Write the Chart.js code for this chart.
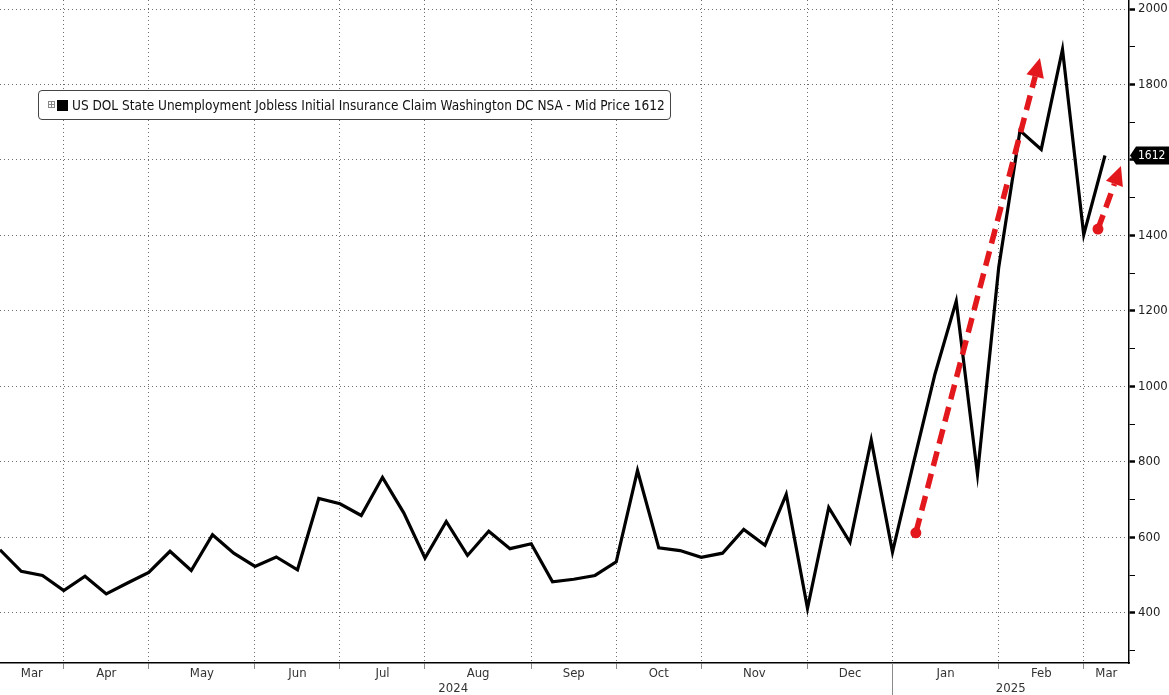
<!DOCTYPE html>
<html>
<head>
<meta charset="utf-8">
<script src="https://cdn.jsdelivr.net/npm/chart.js@4.4.1/dist/chart.umd.min.js"></script>
<style>
  html, body { margin: 0; padding: 0; background: #fff; }
  #wrap { position: relative; width: 1169px; height: 695px; }
  #legend {
    position: absolute; left: 38px; top: 90px; width: 631px; height: 28px;
    border: 1px solid #444; border-radius: 4px; background: #fff;
    font: 13.5px "DejaVu Sans Condensed", "DejaVu Sans", sans-serif; color: #111;
    line-height: 28px; white-space: nowrap;
  }
  #legend .plus {
    position: absolute; left: 9px; top: 10px; width: 5px; height: 5px;
    border: 1px solid #888;
  }
  #legend .plus::before {
    content: ''; position: absolute; left: 2px; top: 0; width: 1px; height: 5px; background: #888;
  }
  #legend .plus::after {
    content: ''; position: absolute; left: 0; top: 2px; width: 5px; height: 1px; background: #888;
  }
  #legend .sq {
    position: absolute; left: 18px; top: 9px; width: 11px; height: 11px; background: #000;
  }
  #legend .txt { position: absolute; left: 33px; top: 0; }
</style>
</head>
<body>
<div id="wrap">
  <canvas id="chart" width="1169" height="695"></canvas>
  <div id="legend"><span class="plus"></span><span class="sq"></span><span class="txt" id="legendText"></span></div>
</div>
<script>
// weekly observations (week ending Friday)
const weeks = [
  '2024-03-15','2024-03-22','2024-03-29',
  '2024-04-05','2024-04-12','2024-04-19','2024-04-26',
  '2024-05-03','2024-05-10','2024-05-17','2024-05-24','2024-05-31',
  '2024-06-07','2024-06-14','2024-06-21','2024-06-28',
  '2024-07-05','2024-07-12','2024-07-19','2024-07-26',
  '2024-08-02','2024-08-09','2024-08-16','2024-08-23','2024-08-30',
  '2024-09-06','2024-09-13','2024-09-20','2024-09-27',
  '2024-10-04','2024-10-11','2024-10-18','2024-10-25',
  '2024-11-01','2024-11-08','2024-11-15','2024-11-22','2024-11-29',
  '2024-12-06','2024-12-13','2024-12-20','2024-12-27',
  '2025-01-03','2025-01-10','2025-01-17','2025-01-24','2025-01-31',
  '2025-02-07','2025-02-14','2025-02-21','2025-02-28',
  '2025-03-07','2025-03-14'
];
const claims = [
  567, 510, 499,
  459, 497, 450, 479,
  507, 563, 512, 607, 558,
  523, 548, 514, 703,
  689, 658, 759, 665,
  545, 642, 552, 616, 570,
  583, 482, 489, 499,
  535, 777, 572, 565,
  547, 558, 621, 579, 714,
  412, 679, 587, 858,
  561, 800, 1033, 1226, 767,
  1316, 1678, 1628, 1893,
  1402, 1612
];
const monthNames = ['Jan','Feb','Mar','Apr','May','Jun','Jul','Aug','Sep','Oct','Nov','Dec'];
const yLabelTicks = [400, 600, 800, 1000, 1200, 1400, 1600, 1800, 2000];
const seriesName = 'US DOL State Unemployment Jobless Initial Insurance Claim Washington DC NSA - Mid Price';

// red annotation arrows, in (week index, claims) units
const arrowFromX = [43.1, 51.67];
const arrowFromY = [612, 1417];
const arrowToX = [48.94, 52.75];
const arrowToY = [1870, 1584];

const lastValue = claims[claims.length - 1];
document.getElementById('legendText').textContent = seriesName + ' ' + lastValue;

// month boundaries = first week of each new month
const monthStarts = [];
weeks.forEach((d, i) => {
  if (i > 0 && d.slice(5, 7) !== weeks[i - 1].slice(5, 7)) monthStarts.push(i);
});
const xMax = 53.13;

const points = claims.map((v, i) => ({ x: i, y: v }));

const axisFont = '"DejaVu Sans Condensed", "DejaVu Sans", sans-serif';

const bottomLabels = {
  id: 'bottomLabels',
  afterDraw(chart) {
    const { ctx, chartArea } = chart;
    const x = chart.scales.x;
    const bounds = [0].concat(monthStarts, [xMax]);
    const starts = [weeks[0]].concat(monthStarts.map(i => weeks[i]));
    ctx.save();
    ctx.fillStyle = '#333';
    ctx.font = '13px ' + axisFont;
    ctx.textAlign = 'center';
    ctx.textBaseline = 'middle';
    for (let k = 0; k < bounds.length - 1; k++) {
      const m = parseInt(starts[k].slice(5, 7), 10) - 1;
      const px = (x.getPixelForValue(bounds[k]) + x.getPixelForValue(bounds[k + 1])) / 2;
      ctx.fillText(monthNames[m], px, chartArea.bottom + 11);
    }
    // years
    const yearBounds = [0];
    const years = [weeks[0].slice(0, 4)];
    monthStarts.forEach(i => {
      if (weeks[i].slice(0, 4) !== years[years.length - 1]) {
        yearBounds.push(i);
        years.push(weeks[i].slice(0, 4));
      }
    });
    yearBounds.push(xMax);
    for (let k = 0; k < years.length; k++) {
      const px = (x.getPixelForValue(yearBounds[k]) + x.getPixelForValue(yearBounds[k + 1])) / 2;
      ctx.fillText(years[k], px + (k === 0 ? 7 : 0), chartArea.bottom + 26);
      if (k > 0) {
        const sx = Math.round(x.getPixelForValue(yearBounds[k])) + 0.5;
        ctx.strokeStyle = '#8a8a8a';
        ctx.lineWidth = 1;
        ctx.beginPath();
        ctx.moveTo(sx, chartArea.bottom);
        ctx.lineTo(sx, chart.height);
        ctx.stroke();
      }
    }
    ctx.restore();
  }
};

const arrows = {
  id: 'arrows',
  afterDatasetsDraw(chart) {
    const { ctx } = chart;
    const x = chart.scales.x, y = chart.scales.y;
    ctx.save();
    const red = '#e3181c';
    for (let k = 0; k < arrowFromX.length; k++) {
      const x1 = x.getPixelForValue(arrowFromX[k]), y1 = y.getPixelForValue(arrowFromY[k]);
      const x2 = x.getPixelForValue(arrowToX[k]), y2 = y.getPixelForValue(arrowToY[k]);
      const ang = Math.atan2(y2 - y1, x2 - x1);
      const headLen = 19, headW = 9;
      const bx = x2 - Math.cos(ang) * headLen, by = y2 - Math.sin(ang) * headLen;
      ctx.strokeStyle = red;
      ctx.lineWidth = 5.5;
      ctx.setLineDash([15, 8]);
      ctx.beginPath();
      ctx.moveTo(x1, y1);
      ctx.lineTo(bx, by);
      ctx.stroke();
      ctx.setLineDash([]);
      ctx.fillStyle = red;
      ctx.beginPath();
      ctx.moveTo(x2, y2);
      ctx.lineTo(bx + Math.sin(ang) * headW, by - Math.cos(ang) * headW);
      ctx.lineTo(bx - Math.sin(ang) * headW, by + Math.cos(ang) * headW);
      ctx.closePath();
      ctx.fill();
      ctx.beginPath();
      ctx.arc(x1, y1, 5.5, 0, Math.PI * 2);
      ctx.fill();
    }
    ctx.restore();
  }
};

const lastTag = {
  id: 'lastTag',
  afterDraw(chart) {
    const { ctx, chartArea } = chart;
    const py = chart.scales.y.getPixelForValue(lastValue);
    const x0 = chartArea.right, x1 = chart.width;
    ctx.save();
    ctx.fillStyle = '#000';
    ctx.beginPath();
    ctx.moveTo(x0 + 1, py);
    ctx.lineTo(x0 + 7, py - 9);
    ctx.lineTo(x1, py - 9);
    ctx.lineTo(x1, py + 9);
    ctx.lineTo(x0 + 7, py + 9);
    ctx.closePath();
    ctx.fill();
    ctx.fillStyle = '#fff';
    ctx.font = '12px ' + axisFont;
    ctx.textAlign = 'left';
    ctx.textBaseline = 'middle';
    ctx.fillText(String(lastValue), x0 + 9, py + 0.5);
    ctx.restore();
  }
};

new Chart(document.getElementById('chart'), {
  type: 'line',
  data: {
    datasets: [{
      data: points,
      borderColor: '#000',
      borderWidth: 3.2,
      pointRadius: 0,
      tension: 0,
      fill: false
    }]
  },
  options: {
    responsive: false,
    animation: false,
    layout: { padding: 0 },
    plugins: { legend: { display: false }, tooltip: { enabled: false } },
    scales: {
      x: {
        type: 'linear',
        position: 'bottom',
        min: 0,
        max: xMax,
        afterBuildTicks: s => { s.ticks = monthStarts.map(v => ({ value: v })); },
        afterFit: s => { s.height = 32; s.paddingLeft = 0; s.paddingRight = 0; },
        ticks: { display: false },
        grid: {
          color: '#6e6e6e', lineWidth: 1,
          drawTicks: true, tickLength: 6, tickColor: '#8a8a8a', tickWidth: 1
        },
        border: { display: true, color: '#000', width: 1.5, dash: [1, 3] }
      },
      y: {
        position: 'right',
        min: 267,
        max: 2024,
        afterBuildTicks: s => {
          const t = [];
          for (let v = 300; v <= 2000; v += 100) t.push({ value: v });
          s.ticks = t;
        },
        afterFit: s => { s.width = 40; s.paddingTop = 0; s.paddingBottom = 0; },
        ticks: {
          color: '#222',
          padding: 3,
          font: { family: axisFont, size: 13 },
          callback: v => yLabelTicks.includes(v) ? String(v) : ''
        },
        grid: {
          color: c => yLabelTicks.includes(c.tick.value) ? '#6e6e6e' : 'rgba(0,0,0,0)',
          lineWidth: 1,
          tickLength: 6,
          tickColor: '#000',
          tickWidth: c => yLabelTicks.includes(c.tick.value) ? 2.5 : 1
        },
        border: { display: true, color: '#000', width: 1.5, dash: [1, 3] }
      }
    }
  },
  plugins: [bottomLabels, arrows, lastTag]
});
</script>
</body>
</html>
